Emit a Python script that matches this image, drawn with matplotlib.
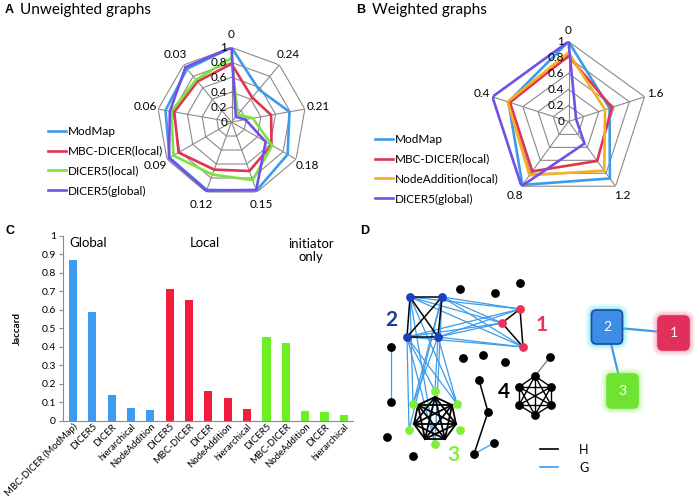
import numpy as np
import matplotlib
matplotlib.use("Agg")
import matplotlib.pyplot as plt
from matplotlib.patches import FancyBboxPatch

plt.rcParams['font.family'] = ['Lato', 'DejaVu Sans']

## panel A: unweighted graphs (radar)
a_axes = ['0', '0.03', '0.06', '0.09', '0.12', '0.15', '0.18', '0.21', '0.24']
a_names = ['ModMap', 'MBC-DICER(local)', 'DICER5(local)', 'DICER5(global)']
a_modmap = [1.00, 0.93, 0.90, 0.96, 0.97, 0.98, 0.87, 0.79, 0.57]
a_mbc = [0.78, 0.71, 0.78, 0.82, 0.68, 0.70, 0.62, 0.54, 0.43]
a_dicer5_local = [0.86, 0.74, 0.82, 0.90, 0.75, 0.83, 0.63, 0.29, 0.13]
a_dicer5_global = [1.00, 0.96, 0.84, 0.97, 0.98, 0.97, 0.53, 0.19, 0.09]

## panel B: weighted graphs (radar)
b_axes = ['0', '0.4', '0.8', '1.2', '1.6']
b_names = ['ModMap', 'MBC-DICER(local)', 'NodeAddition(local)', 'DICER5(global)']
b_modmap = [1.00, 0.79, 0.98, 0.88, 0.54]
b_mbc = [0.82, 0.77, 0.77, 0.61, 0.57]
b_nodeadd = [0.86, 0.80, 0.83, 0.76, 0.48]
b_dicer5_global = [1.00, 1.00, 1.00, 0.34, 0.10]

ring_values = [0.2, 0.4, 0.6, 0.8, 1.0]
ring_labels = ['0', '0.2', '0.4', '0.6', '0.8', '1']

## panel C: Jaccard bars
c_labels = ['MBC-DICER (ModMap)', 'DICER5', 'DICER', 'hierarchical', 'NodeAddition',
            'DICER5', 'MBC-DICER', 'DICER', 'NodeAddition', 'hierarchical',
            'DICER5', 'MBC-DICER', 'NodeAddition', 'DICER', 'hierarchical']
c_global = [0.87, 0.59, 0.14, 0.07, 0.06]
c_local = [0.71, 0.65, 0.16, 0.125, 0.065]
c_initiator = [0.455, 0.42, 0.05, 0.045, 0.03]
c_groups = ['Global', 'Local', 'initiator\nonly']

## panel D: network sketch (node positions in pixel units)
d_blue_x = [410, 442, 407, 438]
d_blue_y = [297, 297, 337, 337]
d_red_x = [520, 502, 523]
d_red_y = [309, 323, 347]
d_green_x = [435, 413, 457, 409, 460, 435]
d_green_y = [391, 404, 404, 430, 430, 444]
d_black_x = [460, 495, 520, 391, 463, 483, 505, 391, 387, 413, 479, 488, 474, 494]
d_black_y = [289, 293, 283, 347, 358, 355, 362, 402, 437, 456, 380, 412, 454, 443]
d_c3_x = [435, 452, 456, 445, 425, 414, 418]      # inner clique of module 3
d_c3_y = [397, 405, 424, 439, 439, 424, 405]
d_c4_x = [535, 519, 551, 519, 551, 535]           # module 4 clique
d_c4_y = [376, 387, 387, 405, 405, 415]
# G edges: blue->red, blue->green
d_g_blue_red = [(i, j) for i in range(4) for j in range(3)]
d_g_blue_green = [(0, 1), (0, 5), (0, 2), (1, 1), (1, 3), (1, 5),
                  (2, 3), (2, 0), (2, 2), (2, 5), (3, 1), (3, 0), (3, 2)]
d_g_black = [(3, 7), (12, 13)]
d_h_chain = [(10, 11), (11, 12)]

blue = '#3d9be9'
red = '#e0344f'
green = '#7be33c'
purple = '#7150e6'
orange = '#f5b022'
grid_c = '#8a8a8a'

fig = plt.figure(figsize=(7, 5), dpi=100)


def px_rect(cx, cy, r):
    return [(cx - r) / 700, 1 - (cy + r) / 500, 2 * r / 700, 2 * r / 500]


def radar(rect, cats, series, names, colors, label_r, leg_xy):
    ax = fig.add_axes(rect, projection='polar')
    n = len(cats)
    theta = np.linspace(0, 2 * np.pi, n, endpoint=False)
    closed = np.append(theta, theta[0])
    ax.set_theta_offset(np.pi / 2)
    ax.set_ylim(0, 1)
    ax.grid(False)
    ax.spines['polar'].set_visible(False)
    ax.set_xticks([])
    ax.set_yticks([])
    ax.patch.set_alpha(0)
    for r in ring_values:
        ax.plot(closed, [r] * (n + 1), color=grid_c, lw=0.8, zorder=1)
    for t in theta:
        ax.plot([t, t], [0, 1], color=grid_c, lw=0.8, zorder=1)
    for r, lab in zip([0] + ring_values, ring_labels):
        ax.annotate(lab, (0, r), xytext=(-3, 0), textcoords='offset points',
                    ha='right', va='center', fontsize=8.5, zorder=5)
    for t, lab in zip(theta, cats):
        ax.text(t, label_r, lab, ha='center', va='center', fontsize=8.5)
    handles = []
    for vals, c in zip(series, colors):
        h, = ax.plot(closed, vals + vals[:1], color=c, lw=1.9, zorder=3)
        handles.append(h)
    fig.legend(handles, names, loc='upper left',
               bbox_to_anchor=(leg_xy[0] / 700, 1 - leg_xy[1] / 500),
               frameon=False, fontsize=8.5, handlelength=1.5,
               handletextpad=0.15, labelspacing=0.75, borderpad=0)
    return ax


radar(px_rect(231.5, 122, 74.5), a_axes,
      [a_modmap, a_mbc, a_dicer5_local, a_dicer5_global], a_names,
      [blue, red, green, purple], 1.18, (42, 120))
radar(px_rect(568.5, 121.5, 80), b_axes,
      [b_modmap, b_mbc, b_nodeadd, b_dicer5_global], b_names,
      [blue, red, orange, purple], 1.14, (369, 128))

# titles / panel letters
fig.text(5 / 700, 1 - 10 / 500, 'A', fontsize=9, fontweight='bold',
         family='Liberation Sans', va='center')
fig.text(20 / 700, 1 - 10 / 500, 'Unweighted graphs', fontsize=11, va='center')
fig.text(356 / 700, 1 - 10 / 500, 'B', fontsize=9, fontweight='bold',
         family='Liberation Sans', va='center')
fig.text(372 / 700, 1 - 10 / 500, 'Weighted graphs', fontsize=11, va='center')
fig.text(5 / 700, 1 - 231 / 500, 'C', fontsize=9, fontweight='bold',
         family='Liberation Sans', va='center')
fig.text(360 / 700, 1 - 231 / 500, 'D', fontsize=9, fontweight='bold',
         family='Liberation Sans', va='center')

## panel C
axc = fig.add_axes([62.7 / 700, 1 - 420.7 / 500, 290.3 / 700, 185 / 500])
vals = c_global + c_local + c_initiator
cols = ['#3e9cf0'] * 5 + ['#f21c3c'] * 5 + ['#6def26'] * 5
x = np.arange(len(vals))
axc.bar(x, vals, width=0.42, color=cols)
axc.set_xlim(-0.53, 14.47)
axc.set_ylim(0, 1)
axc.set_yticks(np.arange(0, 1.01, 0.1))
axc.set_yticklabels(['0'] + ['%.1f' % v for v in np.arange(0.1, 0.95, 0.1)] + ['1'],
                    fontsize=7.5)
axc.set_xticks(x)
axc.set_xticklabels(c_labels, rotation=45, ha='right', rotation_mode='anchor',
                    fontsize=6.8)
axc.tick_params(axis='x', length=0, pad=1)
axc.tick_params(axis='y', length=3, color=grid_c, pad=2)
for s in ['top', 'right']:
    axc.spines[s].set_visible(False)
for s in ['left', 'bottom']:
    axc.spines[s].set_color(grid_c)
    axc.spines[s].set_linewidth(0.8)
axc.set_ylabel('Jaccard', fontsize=7, fontweight='bold', labelpad=14)
for gx, g in zip([0.8, 6.8, 12.3], c_groups):
    t = axc.text(gx, 0.96, g, ha='center', va='center', fontsize=9.5, linespacing=1.1)
t.set_va('top')
t.set_y(0.99)

## panel D
axd = fig.add_axes([360 / 700, 0, 340 / 700, 240 / 500])
axd.set_xlim(360, 700)
axd.set_ylim(500, 260)
axd.axis('off')

G_c = '#3d9be9'
for i, j in d_g_blue_red:
    axd.plot([d_blue_x[i], d_red_x[j]], [d_blue_y[i], d_red_y[j]], color=G_c, lw=0.9, zorder=1)
for i, j in d_g_blue_green:
    axd.plot([d_blue_x[i], d_green_x[j]], [d_blue_y[i], d_green_y[j]], color=G_c, lw=0.9, zorder=1)
for i, j in d_g_black:
    axd.plot([d_black_x[i], d_black_x[j]], [d_black_y[i], d_black_y[j]], color=G_c, lw=0.9, zorder=1)


def clique(xs, ys, lw=1.1):
    for i in range(len(xs)):
        for j in range(i + 1, len(xs)):
            axd.plot([xs[i], xs[j]], [ys[i], ys[j]], color='black', lw=lw, zorder=2)


clique(d_blue_x, d_blue_y)
clique(d_red_x, d_red_y)
clique(d_c3_x, d_c3_y, lw=1.3)
clique(d_c4_x, d_c4_y, lw=1.0)
for i, j in d_h_chain:
    axd.plot([d_black_x[i], d_black_x[j]], [d_black_y[i], d_black_y[j]], color='black', lw=1.1, zorder=2)
axd.plot([d_c4_x[0], 550], [d_c4_y[0], 357], color='#777777', lw=0.9, zorder=1)

ms = 40
axd.scatter(d_blue_x, d_blue_y, s=ms, color='#1a3fbf', zorder=4, linewidths=0)
axd.scatter(d_red_x, d_red_y, s=ms, color='#e8335a', zorder=4, linewidths=0)
axd.scatter(d_green_x, d_green_y, s=ms, color='#7ff03a', zorder=4, linewidths=0)
axd.scatter(d_black_x + d_c4_x + [550], d_black_y + d_c4_y + [357], s=ms,
            color='black', zorder=4, linewidths=0)

axd.text(391, 320, '2', color='#1a3a9c', fontsize=15, fontweight='bold', ha='center', va='center')
axd.text(542, 325, '1', color='#e8335a', fontsize=15, fontweight='bold', ha='center', va='center')
axd.text(453, 455, '3', color='#7ff03a', fontsize=15, fontweight='bold', ha='center', va='center')
axd.text(504, 392, '4', color='black', fontsize=15, fontweight='bold', ha='center', va='center')

# legend H / G
axd.plot([540, 558], [449, 449], color='black', lw=1.2)
axd.plot([540, 558], [467, 467], color=G_c, lw=1.2)
axd.text(579, 450, 'H', fontsize=9, va='center')
axd.text(579, 468, 'G', fontsize=9, va='center')

# module graph
d_box_x = [607, 673.5, 622.5]
d_box_y = [327, 333, 391]
d_box_lab = ['2', '1', '3']
d_box_fill = ['#3d8de6', '#e0305a', '#6ee332']
d_box_glow = ['#40e0f0', '#f07a9a', '#90f060']
axd.plot([d_box_x[0], d_box_x[1]], [d_box_y[0], d_box_y[1]], color=G_c, lw=1.6, zorder=1)
axd.plot([d_box_x[0], d_box_x[2]], [d_box_y[0], d_box_y[2]], color=G_c, lw=1.6, zorder=1)
for bx, by, lab, fc, gc in zip(d_box_x, d_box_y, d_box_lab, d_box_fill, d_box_glow):
    w, h = 31, 34
    for k, a in zip([6, 4, 2], [0.12, 0.2, 0.3]):
        axd.add_patch(FancyBboxPatch((bx - w / 2 - k, by - h / 2 - k), w + 2 * k, h + 2 * k,
                                     boxstyle='round,pad=0,rounding_size=%d' % (5 + k),
                                     fc=gc, ec='none', alpha=a, zorder=2))
    ec = '#1a4aa0' if lab == '2' else fc
    axd.add_patch(FancyBboxPatch((bx - w / 2, by - h / 2), w, h,
                                 boxstyle='round,pad=0,rounding_size=5',
                                 fc=fc, ec=ec, lw=1.2, zorder=3))
    axd.text(bx, by, lab, color='white', fontsize=10, ha='center', va='center', zorder=4)

fig.savefig('out.png', dpi=100)
